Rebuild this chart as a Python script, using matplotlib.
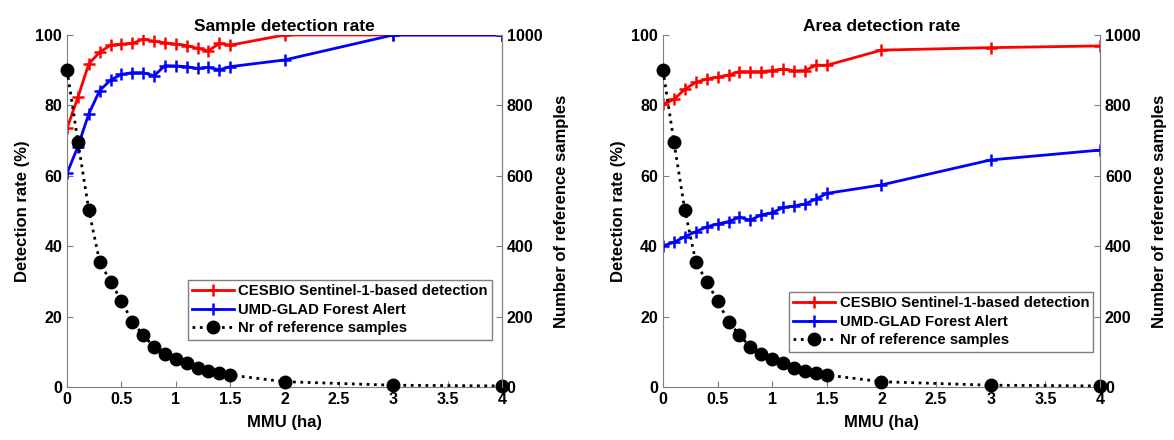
import matplotlib
matplotlib.use("Agg")
import matplotlib.pyplot as plt

plt.rcParams['font.family'] = ['Liberation Sans', 'DejaVu Sans']
plt.rcParams['font.weight'] = 'bold'

# MMU thresholds (ha)
mmu = [0, 0.1, 0.2, 0.3, 0.4, 0.5, 0.6, 0.7, 0.8, 0.9, 1.0,
       1.1, 1.2, 1.3, 1.4, 1.5, 2, 3, 4]

# sample detection rate (%)
sample_cesbio = [73.5, 82.3, 91.8, 95.1, 97.1, 97.4, 97.6, 98.8, 98.2, 97.8, 97.4,
                 97.0, 96.2, 95.5, 97.6, 97.1, 100, 100, 100]
sample_glad = [60.7, 68.3, 77.6, 84.2, 87.2, 88.8, 89.3, 89.3, 88.4, 91.3, 91.2,
               91.0, 90.5, 90.8, 90.1, 91.0, 92.9, 100, 100]

# area detection rate (%)
area_cesbio = [80.3, 81.7, 84.6, 86.5, 87.5, 88.0, 88.6, 89.6, 89.6, 89.6, 89.9,
               90.3, 89.8, 89.9, 91.4, 91.4, 95.7, 96.4, 96.9]
area_glad = [40.1, 41.1, 42.7, 44.1, 45.5, 46.3, 47.0, 48.2, 47.4, 48.9, 49.5,
             51.0, 51.4, 52.0, 53.4, 55.0, 57.4, 64.5, 67.3]

# number of reference samples
n_samples = [901, 697, 503, 356, 299, 245, 185, 148, 113, 93, 80,
             67, 53, 44, 39, 34, 15, 5, 3]

labels = ["CESBIO Sentinel-1-based detection", "UMD-GLAD Forest Alert",
          "Nr of reference samples"]
titles = ["Sample detection rate", "Area detection rate"]

fig = plt.figure(figsize=(11.74, 4.40), dpi=100)
positions = [[0.0571, 0.1205, 0.3705, 0.80], [0.5647, 0.1205, 0.3723, 0.80]]
legend_anchor = [(0.978, 0.134), (0.985, 0.10)]
axis_grey = '#7f7f7f'


def panel(pos, red, blue, title, anchor):
    ax = fig.add_axes(pos)
    l1, = ax.plot(mmu, red, color='red', lw=2, marker='+', ms=9, mew=1.8)
    l2, = ax.plot(mmu, blue, color='blue', lw=2, marker='+', ms=9, mew=1.8)
    ax.set_xlim(0, 4)
    ax.set_ylim(0, 100)
    ax.set_xticks([0, 0.5, 1, 1.5, 2, 2.5, 3, 3.5, 4])
    ax.set_xticklabels(['0', '0.5', '1', '1.5', '2', '2.5', '3', '3.5', '4'])
    ax.set_yticks([0, 20, 40, 60, 80, 100])
    ax.set_xlabel('MMU (ha)', fontsize=12, fontweight='bold', labelpad=6)
    ax.set_ylabel('Detection rate (%)', fontsize=12, fontweight='bold', labelpad=4)
    ax.set_title(title, fontsize=12.5, fontweight='bold', pad=3)

    ax2 = ax.twinx()
    l3, = ax2.plot(mmu, n_samples, color='black', lw=2, ls=':', marker='o',
                   ms=9, clip_on=False)
    ax2.set_ylim(0, 1000)
    ax2.set_yticks([0, 200, 400, 600, 800, 1000])
    ax2.set_ylabel('Number of reference samples', fontsize=12, fontweight='bold',
                   labelpad=8)

    for a in (ax, ax2):
        a.spines['top'].set_visible(False)
        for side in ('left', 'right', 'bottom'):
            a.spines[side].set_color(axis_grey)
        a.tick_params(direction='in', color=axis_grey, labelsize=11.5, length=4)
    ax2.spines['left'].set_visible(False)
    ax2.spines['bottom'].set_visible(False)

    leg = ax2.legend([l1, l2, l3], labels, loc='lower right', bbox_to_anchor=anchor,
                     fontsize=10.7, fancybox=False, framealpha=1,
                     edgecolor=axis_grey, handlelength=2.8, borderpad=0.3,
                     labelspacing=0.3, handletextpad=0.3, borderaxespad=0)
    leg.get_frame().set_linewidth(1)


panel(positions[0], sample_cesbio, sample_glad, titles[0], legend_anchor[0])
panel(positions[1], area_cesbio, area_glad, titles[1], legend_anchor[1])

fig.savefig('out.png', dpi=100)
